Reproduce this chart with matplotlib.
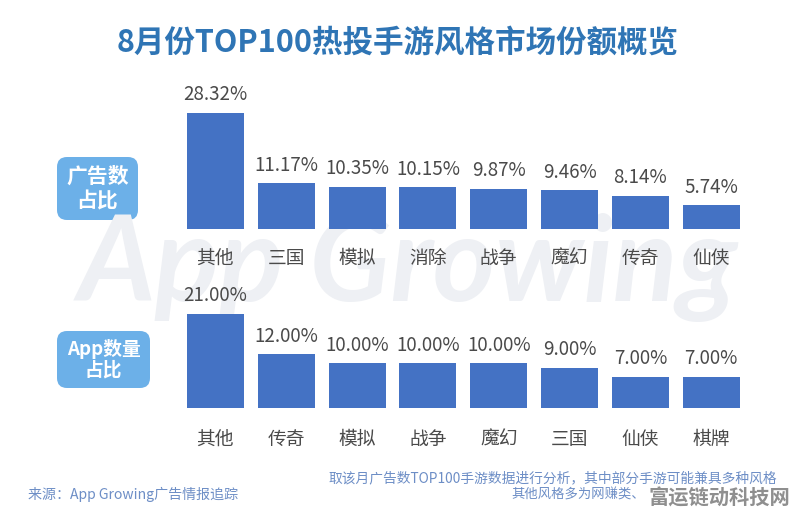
import matplotlib
matplotlib.use("Agg")
import matplotlib.pyplot as plt
from matplotlib.patches import FancyBboxPatch

plt.rcParams['font.family'] = ['Noto Sans CJK SC', 'DejaVu Sans']

W, H = 796, 516
title = "8月份TOP100热投手游风格市场份额概览"
cats_ads = ["其他", "三国", "模拟", "消除", "战争", "魔幻", "传奇", "仙侠"]
vals_ads = [28.32, 11.17, 10.35, 10.15, 9.87, 9.46, 8.14, 5.74]
cats_app = ["其他", "传奇", "模拟", "战争", "魔幻", "三国", "仙侠", "棋牌"]
vals_app = [21.0, 12.0, 10.0, 10.0, 10.0, 9.0, 7.0, 7.0]
badge_ads = "广告数\n占比"
badge_app = "App数量\n占比"
source = "来源：App Growing广告情报追踪"
note1 = "取该月广告数TOP100手游数据进行分析，其中部分手游可能兼具多种风格"
note2 = "其他风格多为网赚类、"
stamp = "富运链动科技网"

BAR = "#4472c4"
TXT = "#4a4a4a"
BADGE = "#6cb0e8"
NOTE = "#6d8ec6"

fig = plt.figure(figsize=(W / 100, H / 100), dpi=100, facecolor="white")

bg = fig.add_axes([0, 0, 1, 1])
bg.set_xlim(0, W)
bg.set_ylim(H, 0)
bg.axis("off")
bg.text(408, 268, "App Growing", fontsize=86, family="Lato", style="italic", weight="bold",
        color="#eef0f4", ha="center", va="center")
bg.text(398, 43, title, fontsize=22, weight="bold", color="#2f75b5", ha="center", va="center")

for x0, y0, w, h, label, fs, ls in [(57, 157, 81, 63, badge_ads, 15, 1.25), (57, 331, 93, 57, badge_app, 13.5, 1.1)]:
    bg.add_patch(FancyBboxPatch((x0 + 9, y0 + 9), w - 18, h - 18, boxstyle="round,pad=9,rounding_size=10",
                                fc=BADGE, ec="none"))
    bg.text(x0 + w / 2, y0 + h / 2, label, color="white", fontsize=fs, weight="bold",
            ha="center", va="center", linespacing=ls)

bg.text(28, 494, source, color=NOTE, fontsize=10.1, ha="left", va="center")
bg.text(777, 478, note1, color=NOTE, fontsize=9.9, ha="right", va="center")
bg.text(645, 495, note2, color=NOTE, fontsize=9.6, ha="right", va="center")
bg.text(790, 498, stamp, color="#8f8f8f", fontsize=14.6, weight="bold", ha="right", va="center")


def panel(cats, vals, base_y, px_per_unit, label_y):
    left, right = 180, 746.6
    top = 80
    ax = fig.add_axes([left / W, 1 - base_y / H, (right - left) / W, (base_y - top) / H])
    ax.patch.set_alpha(0)
    ax.set_xlim(-0.5, 7.5)
    ax.set_ylim(0, (base_y - top) / px_per_unit)
    ax.bar(range(len(vals)), vals, width=0.805, color=BAR)
    for i, v in enumerate(vals):
        ax.annotate(f"{v:.2f}%", (i, v), xytext=(0, 5.5), textcoords="offset points",
                    ha="center", va="bottom", fontsize=13.5, color=TXT)
    ax.set_xticks(range(len(cats)), cats)
    ax.tick_params(axis="x", length=0, pad=label_y, labelsize=13.5, labelcolor=TXT)
    ax.set_yticks([])
    for s in ax.spines.values():
        s.set_visible(False)


panel(cats_ads, vals_ads, 229, 4.096, 13.5)
panel(cats_app, vals_app, 408, 4.48, 14.8)

fig.savefig("out.png", dpi=100)
